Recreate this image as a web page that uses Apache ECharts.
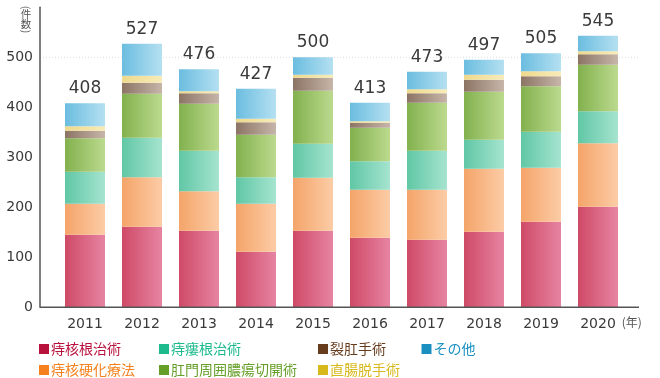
<!DOCTYPE html>
<html><head><meta charset="utf-8">
<script src="https://cdn.jsdelivr.net/npm/echarts@6/dist/echarts.min.js"></script>
<style>html,body{margin:0;padding:0;background:#fff;}#c{width:660px;height:378px;}</style>
</head><body><div id="c"></div>
<script>
var years = ['2011','2012','2013','2014','2015','2016','2017','2018','2019','2020'];
var totals = [408,527,476,427,500,413,473,497,505,545];
var hemorrhoidRadical = [145,161,153,111,153,139,135,151,171,201];
var sclerotherapy = [62,99,79,96,106,96,100,126,108,127];
var fistulaRadical = [64,79,81,53,68,57,78,58,72,64];
var abscessIncision = [67,88,94,85,106,67,96,96,91,93];
var fissureSurgery = [15,22,21,25,26,10,19,24,20,21];
var prolapseSurgery = [9,14,4,7,6,3,8,10,10,6];
var others = [46,64,44,60,35,37,35,30,36,31];
var yTicks = [0,100,200,300,400,500,600];

var chart = echarts.init(document.getElementById('c'), null, {renderer:'canvas'});
function grad(a,b){return new echarts.graphic.LinearGradient(0,0,1,0,[{offset:0,color:a},{offset:1,color:b}]);}
var defs = [
  {name:'痔核根治術', data:hemorrhoidRadical, c1:'#cf4a67', c2:'#e684a2', lc:'#b8123c'},
  {name:'痔核硬化療法', data:sclerotherapy, c1:'#f4a469', c2:'#fccca6', lc:'#f5821f'},
  {name:'痔瘻根治術', data:fistulaRadical, c1:'#60c7a5', c2:'#a6e4d0', lc:'#1cba8c'},
  {name:'肛門周囲膿瘍切開術', data:abscessIncision, c1:'#82b14e', c2:'#bcda8e', lc:'#669f28'},
  {name:'裂肛手術', data:fissureSurgery, c1:'#8c7464', c2:'#c6b6a9', lc:'#673c1c'},
  {name:'直腸脱手術', data:prolapseSurgery, c1:'#eed98c', c2:'#f7ebb8', lc:'#d8b91c'},
  {name:'その他', data:others, c1:'#6bbde0', c2:'#b5e0f1', lc:'#1a8fc0'}
];
var series = defs.map(function(d,i){
  var s = {name:d.name, type:'bar', stack:'total', barWidth:40, data:d.data,
    itemStyle:{color:grad(d.c1,d.c2)}, emphasis:{disabled:true}};
  if(i===defs.length-1){
    s.label = {show:true, position:'top', distance:6, color:'#3a3a3a', fontSize:17,
      fontFamily:'DejaVu Sans', formatter:function(p){return totals[p.dataIndex];}};
  }
  return s;
});
function legItem(d){return {name:d.name, icon:'rect', itemStyle:{color:d.lc}, textStyle:{color:d.lc}};}
function legend(left, items){
  return {left:left, top:342, orient:'vertical', padding:0, itemWidth:10, itemHeight:10, itemGap:7,
    selectedMode:false, textStyle:{fontSize:14, lineHeight:14, fontFamily:'Noto Sans CJK JP', padding:[0,0,0,-3]},
    data:items.map(legItem)};
}
var option = {
  animation:false,
  grid:{left:56.5, right:33.5, top:7.3, bottom:70.7},
  legend:[
    legend(39,[defs[0],defs[1]]),
    legend(159,[defs[2],defs[3]]),
    legend(318,[defs[4],defs[5]]),
    legend(421.5,[defs[6]])
  ],
  xAxis:{type:'category', data:years, axisLine:{show:false}, axisTick:{show:false},
    axisLabel:{color:'#3a3a3a', fontSize:14, fontFamily:'DejaVu Sans', margin:10},
    name:'(年)', nameLocation:'end', nameGap:-5,
    nameTextStyle:{color:'#555', fontSize:12, fontFamily:'Noto Sans CJK JP', verticalAlign:'top', padding:[9,0,0,0]}},
  yAxis:{type:'value', min:yTicks[0], max:yTicks[yTicks.length-1], interval:100, offset:16.5,
    axisLine:{show:true, lineStyle:{color:'#555', width:1.5}}, axisTick:{show:false},
    splitLine:{show:false},
    axisLabel:{color:'#3a3a3a', fontSize:14, fontFamily:'DejaVu Sans', margin:7, showMaxLabel:false}},
  series:series
};
chart.setOption(option);
var y0 = chart.convertToPixel({yAxisIndex:0}, 0);
var y5 = chart.convertToPixel({yAxisIndex:0}, 500);
function vt(ch, cy, rot){
  return {type:'text', silent:true, x:26, y:cy, rotation:rot||0,
    style:{text:ch, font:'10.5px "Noto Sans CJK JP"', fill:'#555', align:'center', verticalAlign:'middle'}};
}
chart.setOption({graphic:[
  {type:'line', silent:true, z:10, shape:{x1:40, y1:y0, x2:639, y2:y0}, style:{stroke:'#555', lineWidth:1.5}},
  {type:'line', silent:true, z:-1, shape:{x1:40, y1:y5, x2:638, y2:y5}, style:{stroke:'#ddd', lineWidth:1, lineDash:[1,2]}},
  vt('(', 7.5, -Math.PI/2),
  vt('件', 13.8),
  vt('数', 24),
  vt(')', 31.5, -Math.PI/2)
]});
</script></body></html>
